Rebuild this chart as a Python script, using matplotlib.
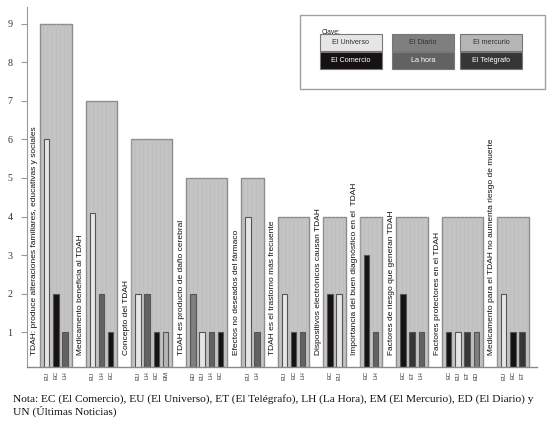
import matplotlib
matplotlib.use("Agg")
import matplotlib.pyplot as plt
from matplotlib.patches import Rectangle

# ─── Datos ─────────────────────────────────────────────

temas = [
    "TDAH: produce alteraciones familiares, educativas y sociales",
    "Medicamento beneficia al TDAH",
    "Concepto del TDAH",
    "TDAH es producto de daño cerebral",
    "Efectos no deseados del fármaco",
    "TDAH es el trastorno más frecuente",
    "Dispositivos electrónicos causan TDAH",
    "Importancia del buen diagnóstico en el  TDAH",
    "Factores de riesgo que generan TDAH",
    "Factores protectores en el TDAH",
    "Medicamento para el TDAH no aumenta riesgo de muerte",
]
totales = [9, 7, 6, 5, 5, 4, 4, 4, 4, 4, 4]
medios = [
    ["EU", "EC", "LH"],
    ["EU", "LH", "EC"],
    ["EU", "LH", "EC", "EM"],
    ["ED", "EU", "LH", "EC"],
    ["EU", "LH"],
    ["EU", "EC", "LH"],
    ["EC", "EU"],
    ["EC", "LH"],
    ["EC", "ET", "LH"],
    ["EC", "EU", "ET", "ED"],
    ["EU", "EC", "ET"],
]
valores = [
    [6, 2, 1],
    [4.1, 2, 1],
    [2, 2, 1, 1],
    [2, 1, 1, 1],
    [4, 1],
    [2, 1, 1],
    [2, 2],
    [3, 1],
    [2, 1, 1],
    [1, 1, 1, 1],
    [2, 1, 1],
]
clave = [
    ("El Universo", "EU"), ("El Diario", "ED"), ("El mercurio", "EM"),
    ("El Comercio", "EC"), ("La hora", "LH"), ("El Telégrafo", "ET"),
]
nota = ("Nota: EC (El Comercio), EU (El Universo), ET (El Telégrafo), LH (La Hora), "
        "EM (El Mercurio), ED (El Diario) y\nUN (Últimas Noticias)")

# ─── Estilo ────────────────────────────────────────────

COLORES = {
    "EU": "#e6e6e6",
    "EC": "#161212",
    "LH": "#626262",
    "ED": "#7f7f7f",
    "EM": "#b5b5b5",
    "ET": "#363636",
}
TEXTO_CLARO = {"EC", "LH", "ET"}
FONDO_BARRA = "#c4c4c4"
BORDE_BARRA = "#8c8c8c"

plt.rcParams["hatch.linewidth"] = 0.3

W, H = 553, 428
fig = plt.figure(figsize=(W / 100, H / 100), dpi=100)
ax = fig.add_axes([27 / W, 1 - 367 / H, 510 / W, 360 / H])

# disposición: ancho de grupo según número de medios
paso = 9.2
hueco = 14.1
x0 = 13
xticks, xlabels = [], []
for tema, total, meds, vals in zip(temas, totales, medios, valores):
    ancho = len(meds) * paso + 4
    ax.bar(x0, total, width=ancho, align="edge", color=FONDO_BARRA,
           edgecolor=BORDE_BARRA, linewidth=1.0, zorder=1)
    ax.bar(x0, total, width=ancho, align="edge", color="none",
           edgecolor="#b6b6b6", hatch="||||", linewidth=0, zorder=1.5)
    centros = [x0 + 2 + paso * (i + 0.5) for i in range(len(meds))]
    ax.bar(centros, vals, width=5.5, color=[COLORES[m] for m in meds],
           edgecolor="#555555", linewidth=0.8, zorder=2)
    xticks += centros
    xlabels += meds
    ax.text(x0 - 5, 0.42, tema, rotation=90, ha="center", va="bottom",
            fontsize=6.0, family="Liberation Sans", color="#111111", zorder=3)
    x0 += ancho + hueco

ax.set_xlim(0, 510)
ax.set_ylim(0.1, 9.43)
ax.set_yticks(range(1, 10))
ax.set_xticks(xticks)
ax.set_xticklabels(xlabels, rotation=90, fontsize=4.3, family="Liberation Sans",
                   color="#333333")
ax.tick_params(axis="x", length=0, pad=3)
ax.tick_params(axis="y", length=4.3, width=0.8, color="#999999", pad=6,
               labelsize=7.2, labelfontfamily="Liberation Serif", labelcolor="#333333")
for s in ("top", "right"):
    ax.spines[s].set_visible(False)
ax.spines["left"].set_color("#9a9a9a")
ax.spines["bottom"].set_color("#8a8a8a")
ax.spines["bottom"].set_linewidth(1.0)

# ─── Clave (leyenda) ───────────────────────────────────

def px(x, y):
    return x / W, 1 - y / H

fig.patches.append(Rectangle(px(300, 89), 245 / W, 74 / H, transform=fig.transFigure,
                             facecolor="white", edgecolor="#a0a0a0", linewidth=1.0))
fig.text(*px(322, 33.5), "Clave:", fontsize=4.8, family="Liberation Sans",
         color="#222222")
columnas = [(320, 62), (392, 62), (460, 62)]
filas = [(34, 17), (52, 17)]
for k, (nombre, cod) in enumerate(clave):
    cx, cw = columnas[k % 3]
    ry, rh = filas[k // 3]
    fig.patches.append(Rectangle(px(cx, ry + rh), cw / W, rh / H,
                                 transform=fig.transFigure, facecolor=COLORES[cod],
                                 edgecolor="#777777", linewidth=0.8))
    fig.text(*px(cx + cw / 2, ry + rh / 2), nombre, ha="center", va="center",
             fontsize=5.2, family="Liberation Sans",
             color="white" if cod in TEXTO_CLARO else "#333333")

fig.text(*px(13, 394), nota, ha="left", va="top", fontsize=8.2,
         family="Liberation Serif", color="#111111", linespacing=1.25)

fig.savefig("out.png", dpi=100, facecolor="white")
